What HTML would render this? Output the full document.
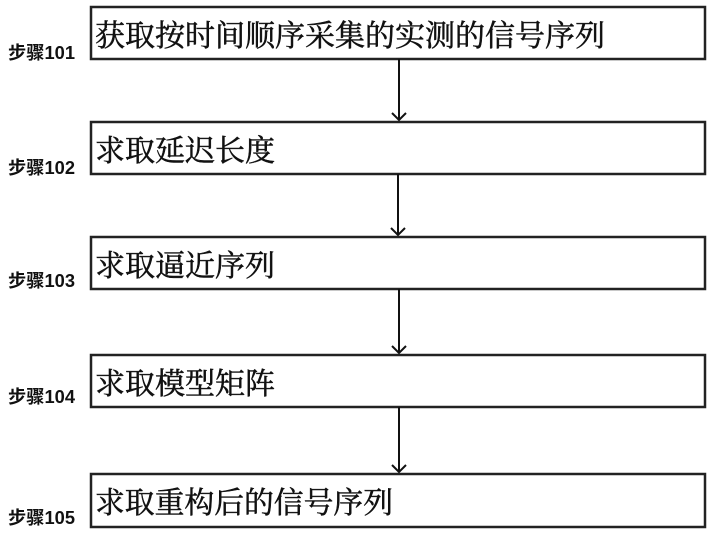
<!DOCTYPE html>
<html><head><meta charset="utf-8"><style>html,body{margin:0;padding:0;background:#fff}</style></head>
<body>
<svg width="713" height="534" viewBox="0 0 713 534" xmlns="http://www.w3.org/2000/svg">
<defs>
<style>
.b{fill:#fff;stroke:#222;stroke-width:2.5}
.t{font-family:"Noto Serif CJK SC","Liberation Serif",serif;font-size:30px;fill:#111;stroke:#111;stroke-width:0.5}
.l{font-family:"Liberation Sans","Noto Sans CJK SC",sans-serif;font-size:18px;font-weight:bold;fill:#111}
.a{stroke:#111;stroke-width:2;fill:none}
</style>
</defs>
<rect class="b" x="91" y="7" width="614" height="52"/>
<rect class="b" x="91" y="122" width="614" height="52"/>
<rect class="b" x="91" y="237" width="614" height="52"/>
<rect class="b" x="91" y="355" width="614" height="52"/>
<rect class="b" x="91" y="474" width="614" height="53"/>

<text class="t" x="95" y="46" textLength="510" lengthAdjust="spacingAndGlyphs">获取按时间顺序采集的实测的信号序列</text>
<text class="t" x="95" y="161" textLength="180" lengthAdjust="spacingAndGlyphs">求取延迟长度</text>
<text class="t" x="95" y="276" textLength="180" lengthAdjust="spacingAndGlyphs">求取逼近序列</text>
<text class="t" x="95" y="394" textLength="180" lengthAdjust="spacingAndGlyphs">求取模型矩阵</text>
<text class="t" x="95" y="513" textLength="298" lengthAdjust="spacingAndGlyphs">求取重构后的信号序列</text>

<text class="l" x="8" y="59" textLength="67" lengthAdjust="spacingAndGlyphs">步骤101</text>
<text class="l" x="8" y="174" textLength="67" lengthAdjust="spacingAndGlyphs">步骤102</text>
<text class="l" x="8" y="287" textLength="67" lengthAdjust="spacingAndGlyphs">步骤103</text>
<text class="l" x="8" y="403" textLength="67" lengthAdjust="spacingAndGlyphs">步骤104</text>
<text class="l" x="8" y="524" textLength="67" lengthAdjust="spacingAndGlyphs">步骤105</text>

<g class="a">
<line x1="399" y1="59" x2="399" y2="120"/><polyline points="392,113 399,120 406,113"/>
<line x1="398" y1="174" x2="398" y2="235"/><polyline points="391,228 398,235 405,228"/>
<line x1="399" y1="289" x2="399" y2="353"/><polyline points="392,346 399,353 406,346"/>
<line x1="399" y1="407" x2="399" y2="472"/><polyline points="392,465 399,472 406,465"/>
</g>
</svg>
</body></html>
